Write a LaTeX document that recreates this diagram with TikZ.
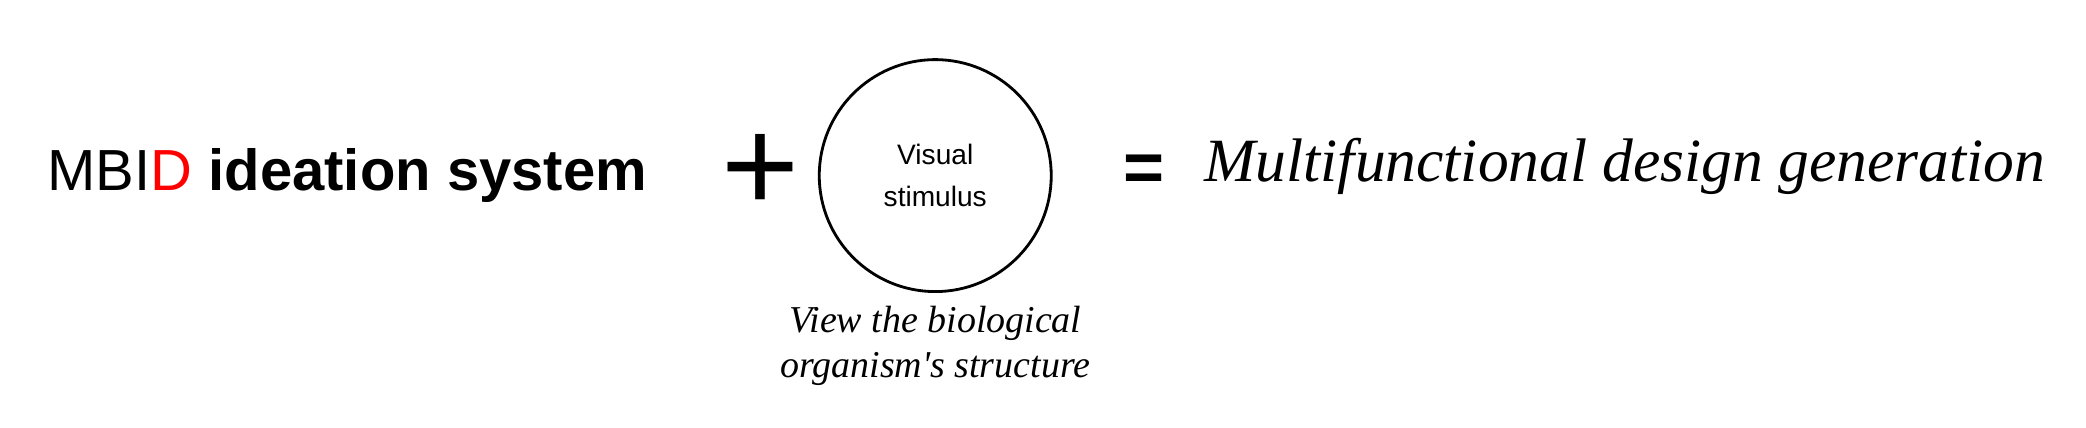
\documentclass[tikz,border=0pt]{standalone}
\usepackage{fontspec}
\setmainfont{Liberation Sans}
\newfontfamily\handfont{Liberation Serif}
\begin{document}
\begin{tikzpicture}[x=0.013304cm,y=-0.013304cm,
  every node/.style={inner sep=0pt},
  hand/.style={font=\handfont\itshape}]
\useasboundingbox (0,0) rectangle (1568,321.7);
\node (title) at (261,132) {\fontsize{16.5}{20}\selectfont MBI\textcolor{red}{D} \textbf{ideation system}};
\node (plus) at (572,130) {\fontsize{38}{38}\selectfont +};
\node[circle,draw,line width=0.8pt,minimum size=2.32cm,align=center,font=\fontsize{8}{12}\selectfont] (stim) at (703,132) {Visual\\stimulus};
\node (eq) at (860,130) {\fontsize{20}{20}\selectfont\textbf{=}};
\node[hand,anchor=west] (res) at (905,125) {\fontsize{17.5}{20}\selectfont Multifunctional design generation};
\node[hand,align=center,font=\handfont\itshape\fontsize{10.8}{13}\selectfont] (cap) at (703,260) {View the biological\\organism's structure};
\end{tikzpicture}
\end{document}
